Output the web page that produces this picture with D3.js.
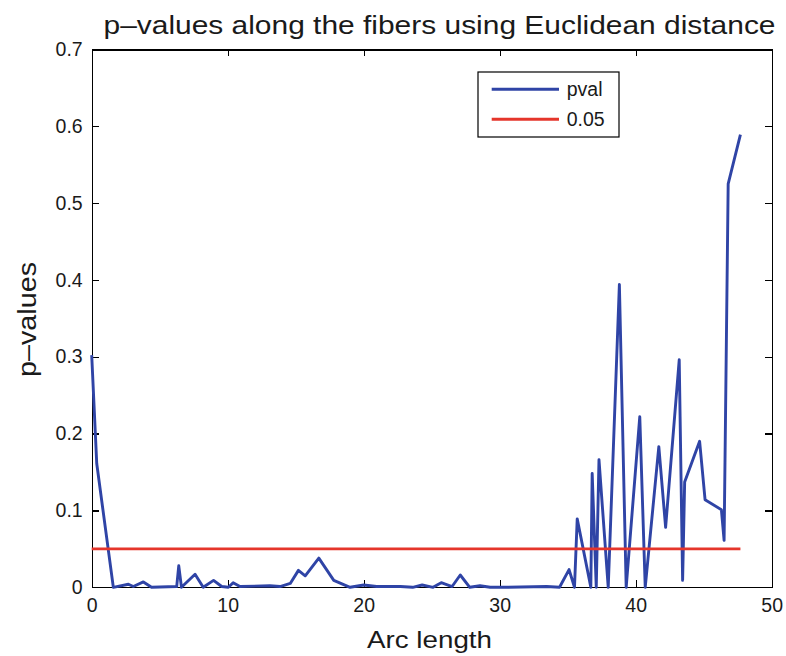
<!DOCTYPE html>
<html>
<head>
<meta charset="utf-8">
<script src="https://cdn.jsdelivr.net/npm/d3@7"></script>
<style>
  body { margin: 0; background: #fff; }
  text { font-family: "Liberation Sans", Arial, sans-serif; fill: #1a1a1a; }
  .axis path, .axis line { stroke: #000; stroke-width: 1.4; shape-rendering: crispEdges; }
</style>
</head>
<body>
<script>
// arc length positions and p-values
var arcLength = [0, 0.37, 1.59, 2.7, 3.06, 3.8, 4.4, 6.25, 6.4, 6.6, 7.6, 8.2, 8.96, 9.56, 10.05, 10.4, 10.9,
  13.1, 13.85, 14.6, 15.2, 15.7, 16.7, 17.8, 19.0, 20.0, 20.95, 22.7, 23.6, 24.3, 25.1, 25.7, 26.5, 27.1, 27.8,
  28.55, 29.3, 30.3, 33.45, 34.4, 35.1, 35.5, 35.7, 36.7, 36.8, 37.1, 37.3, 37.98, 38.8, 39.3, 40.3, 40.7,
  41.7, 42.2, 43.2, 43.45, 43.6, 44.7, 45.1, 46.3, 46.5, 46.8, 47.7];
var pval = [0.302, 0.161, 0, 0.004, 0.001, 0.007, 0, 0.001, 0.028, 0, 0.017, 0, 0.009, 0.001, 0, 0.006, 0.001,
  0.002, 0.001, 0.005, 0.022, 0.015, 0.038, 0.009, 0, 0.003, 0.001, 0.001, 0, 0.003, 0, 0.006, 0.001, 0.016, 0,
  0.002, 0, 0, 0.001, 0, 0.023, 0, 0.089, 0, 0.148, 0, 0.166, 0, 0.394, 0, 0.222, 0,
  0.183, 0.078, 0.296, 0.009, 0.137, 0.190, 0.114, 0.101, 0.061, 0.525, 0.589];
var threshold = 0.05;
var thresholdRange = [0, 47.7];
var xTicks = [0, 10, 20, 30, 40, 50];
var yTicks = [0, 0.1, 0.2, 0.3, 0.4, 0.5, 0.6, 0.7];
var legendLabels = ["pval", "0.05"];
var legendColors = ["#2f44a6", "#e5352b"];

var width = 786, height = 656;
var margin = {left: 91.7, right: 786 - 771.7, top: 49.3, bottom: 656 - 587.3};
var w = width - margin.left - margin.right;
var h = height - margin.top - margin.bottom;

var svg = d3.select("body").append("svg")
  .attr("width", width).attr("height", height);
var g = svg.append("g")
  .attr("transform", "translate(" + margin.left + "," + margin.top + ")");

var x = d3.scaleLinear().domain([0, 50]).range([0, w]);
var y = d3.scaleLinear().domain([0, 0.7]).range([h, 0]);

// box and inward ticks on all four sides (matlab style)
g.append("g").attr("class", "axis").attr("transform", "translate(0," + h + ")")
  .call(d3.axisBottom(x).tickValues(xTicks).tickSize(-7).tickSizeOuter(0).tickPadding(11).tickFormat(d3.format("d")));
g.append("g").attr("class", "axis")
  .call(d3.axisTop(x).tickValues(xTicks).tickSize(-7).tickSizeOuter(0).tickFormat(""));
g.append("g").attr("class", "axis")
  .call(d3.axisLeft(y).tickValues(yTicks).tickSize(-7).tickSizeOuter(0).tickPadding(9)
    .tickFormat(function(d) { return d === 0 ? "0" : d3.format(".1f")(d); }));
g.append("g").attr("class", "axis").attr("transform", "translate(" + w + ",0)")
  .call(d3.axisRight(y).tickValues(yTicks).tickSize(-7).tickSizeOuter(0).tickFormat(""));

g.selectAll(".axis text").style("font-size", "19.5px").attr("fill", "#1a1a1a");

// data lines
var line = d3.line().x(function(d) { return x(d[0]); }).y(function(d) { return y(d[1]); });
var pts = arcLength.map(function(a, i) { return [a, pval[i]]; });

g.append("path").datum(pts)
  .attr("d", line)
  .attr("fill", "none").attr("stroke", legendColors[0]).attr("stroke-width", 2.9)
  .attr("stroke-linejoin", "round");

g.append("path").datum(thresholdRange.map(function(a) { return [a, threshold]; }))
  .attr("d", line)
  .attr("fill", "none").attr("stroke", legendColors[1]).attr("stroke-width", 2.9);

// legend
var leg = svg.append("g").attr("transform", "translate(478,72)");
leg.append("rect").attr("width", 141).attr("height", 65)
  .attr("fill", "#fff").attr("stroke", "#000").attr("stroke-width", 1.2);
legendLabels.forEach(function(lab, i) {
  var ly = 17.3 + i * 30;
  leg.append("line").attr("x1", 13.7).attr("x2", 81).attr("y1", ly).attr("y2", ly)
    .attr("stroke", legendColors[i]).attr("stroke-width", 2.9);
  leg.append("text").attr("x", 88.7).attr("y", ly + 7).style("font-size", "19.5px").text(lab);
});

// titles (fitted to the widths seen in the picture)
svg.append("text").attr("x", 103.5).attr("y", 34).style("font-size", "25.5px")
  .attr("textLength", 672).attr("lengthAdjust", "spacingAndGlyphs")
  .text("p\u2013values along the fibers using Euclidean distance");
svg.append("text").attr("x", 367).attr("y", 648).style("font-size", "24px")
  .attr("textLength", 125).attr("lengthAdjust", "spacingAndGlyphs")
  .text("Arc length");
svg.append("text").attr("transform", "translate(36,377) rotate(-90)").style("font-size", "25px")
  .attr("textLength", 115).attr("lengthAdjust", "spacingAndGlyphs")
  .text("p\u2013values");
</script>
</body>
</html>
